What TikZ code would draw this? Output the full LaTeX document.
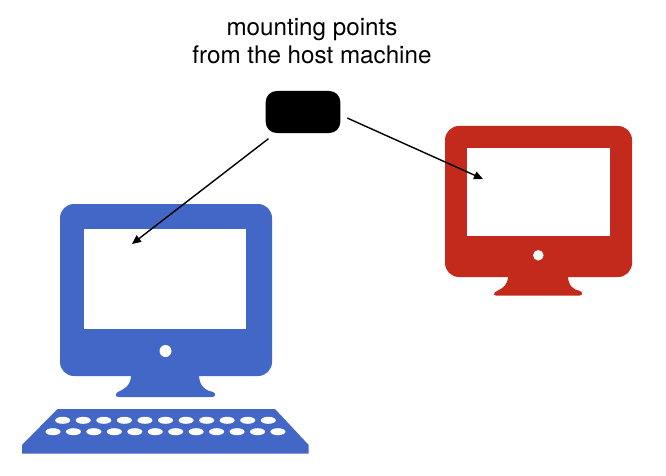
\documentclass[tikz,border=0pt]{standalone}
\usepackage{fontspec}
\setmainfont{TeX Gyre Heros}
\usetikzlibrary{arrows.meta}
\definecolor{pcblue}{HTML}{4267C7}
\definecolor{pcred}{HTML}{C32A1B}
\tikzset{
    screen/.style={fill=white, inner sep=0pt},
    link/.style={-{Triangle[length=9pt,width=8pt]}, line width=1.4pt},
}
\begin{document}
\begin{tikzpicture}[x=1pt,y=-1pt]
    \useasboundingbox (0,0) rectangle (666,476);
    % blue machine
    \node[fill=pcblue, rounded corners=14pt, inner sep=0pt, minimum width=212pt, minimum height=172pt] (bluecase) at (166,290) {};
    \node[screen, minimum width=162pt, minimum height=100pt] (bluescreen) at (165,279) {};
    \node[circle, fill=white, inner sep=0pt, minimum size=12pt] (bluedot) at (165.5,351) {};
    \fill[pcblue] (131,375) .. controls (131,386) and (124,389) .. (118,392) .. controls (115,394) and (115,397) .. (119,397) -- (212,397) .. controls (216,397) and (216,393) .. (213,392) .. controls (206,391) and (199,386) .. (199,375) -- cycle;
    \fill[pcblue] (57.5,409) -- (275,409) -- (308.7,445) -- (308.7,453.7) -- (22,453.7) -- (22,445) -- cycle;
    \foreach \i in {0,...,10}
        \fill[white] (62.7+20.56*\i,420.3) ellipse (7.5 and 3.5);
    \foreach \i in {0,...,11}
        \fill[white] (53+20.45*\i,431.7) ellipse (7.5 and 3.5);
    % red machine
    \node[fill=pcred, rounded corners=14pt, inner sep=0pt, minimum width=187pt, minimum height=151pt] (redcase) at (538.5,201.5) {};
    \node[screen, minimum width=143pt, minimum height=88pt] (redscreen) at (538.5,192) {};
    \node[circle, fill=white, inner sep=0pt, minimum size=10.5pt] (reddot) at (538.3,255.3) {};
    \fill[pcred] (508,276) .. controls (508,285) and (503,288) .. (497,291) .. controls (493,293) and (493,295.7) .. (497,295.7) -- (579,295.7) .. controls (583,295.7) and (583,292) .. (580,291) .. controls (573,290) and (568,285) .. (568,276) -- cycle;
    % mounting points
    \node[align=center, font=\fontsize{24.2}{28}\selectfont] (title) at (312,41) {mounting points\\from the host machine};
    \node[fill=black, rounded corners=11pt, inner sep=0pt, minimum width=74.6pt, minimum height=42pt] (host) at (303,112) {};
    \coordinate (bluepoint) at (132,244);
    \coordinate (redpoint) at (483,179);
    \draw[link, shorten <=9pt] (host) -- (bluepoint);
    \draw[link, shorten <=7.5pt] ([yshift=-3pt]host.east) -- (redpoint);
\end{tikzpicture}
\end{document}
